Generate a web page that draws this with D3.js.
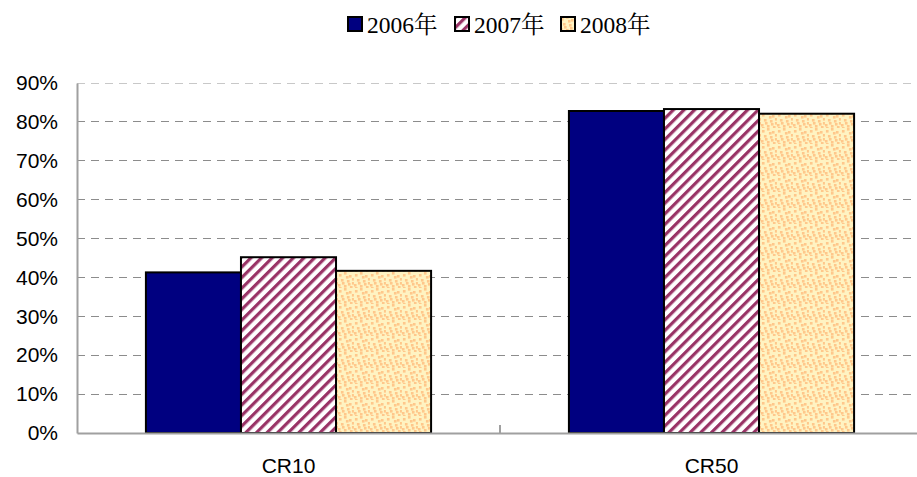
<!DOCTYPE html>
<html><head><meta charset="utf-8">
<script src="https://cdn.jsdelivr.net/npm/d3@7"></script>
<style>body{margin:0;background:#fff}</style>
</head><body>
<svg id="c" width="917" height="477"></svg>
<script>
const categories = ["CR10", "CR50"];
const seriesNames = ["2006年", "2007年", "2008年"];
const s2006 = [0.413, 0.828];
const s2007 = [0.452, 0.833];
const s2008 = [0.417, 0.821];
const yTicks = [0,0.1,0.2,0.3,0.4,0.5,0.6,0.7,0.8,0.9];
const seriesValues = [s2006, s2007, s2008];

const svg = d3.select("#c");
const defs = svg.append("defs");
// stripes
const p1 = defs.append("pattern").attr("id","stripe").attr("patternUnits","userSpaceOnUse")
  .attr("width",7.5).attr("height",7.5).attr("patternTransform","rotate(45)");
p1.append("rect").attr("width",7.5).attr("height",7.5).attr("fill","#fff");
p1.append("rect").attr("x",0).attr("width",3.2).attr("height",7.5).attr("fill","#993366");
// dots
const p2 = defs.append("pattern").attr("id","dots").attr("patternUnits","userSpaceOnUse")
  .attr("width",16).attr("height",16);
p2.append("rect").attr("width",16).attr("height",16).attr("fill","#FFF3C2");
[[1,2],[6,0],[11,3],[3,7],[9,8],[14,10],[0,12],[6,13],[12,14],[4,10],[8,4],[14,6],[1,15],[10,11]].forEach(d=>{
  p2.append("rect").attr("x",d[0]).attr("y",d[1]).attr("width",2.6).attr("height",2.6).attr("fill","#FFC78A");
});
const fills = ["#000080","url(#stripe)","url(#dots)"];

const L=77, R=923, T=83, B=433;
const x = d3.scaleBand().domain(categories).range([L,R]);
const y = d3.scaleLinear().domain([0,0.9]).range([B,T]);
const barW = x.bandwidth()/ (3+1.45);
const xs = d3.scaleBand().domain(seriesNames).range([0, barW*3]);

// grid
svg.append("g").selectAll("line").data(yTicks.filter(d=>d>0)).join("line")
  .attr("x1",L).attr("x2",917).attr("y1",d=>y(d)).attr("y2",d=>y(d))
  .attr("stroke",(d)=>d===0.9?"#c8c8c8":"#8c8c8c").attr("stroke-width",1).attr("stroke-dasharray","8,6")
  .attr("shape-rendering","crispEdges");

// y axis
const ya = svg.append("g").attr("transform",`translate(${L},0)`)
  .call(d3.axisLeft(y).tickValues(yTicks).tickFormat(d3.format(".0%")).tickSize(0).tickPadding(19));
ya.select(".domain").attr("stroke","#a0a0a0").attr("stroke-width",2);
ya.selectAll("text").attr("font-family","Liberation Sans, Arial").attr("font-size",21).attr("fill","#000");

// bars
categories.forEach((c,ci)=>{
  const g = svg.append("g").attr("transform",`translate(${x(c)+(x.bandwidth()-barW*3)/2},0)`);
  g.selectAll("rect").data(seriesNames).join("rect")
    .attr("x",d=>xs(d)).attr("width",xs.bandwidth())
    .attr("y",(d,i)=>y(seriesValues[i][ci])).attr("height",(d,i)=>B-y(seriesValues[i][ci]))
    .attr("fill",(d,i)=>fills[i]).attr("stroke","#000").attr("stroke-width",2);
});

// x axis
const xa = svg.append("g").attr("transform",`translate(0,${B})`)
  .call(d3.axisBottom(x).tickSize(0).tickPadding(25));
xa.select(".domain").attr("stroke","#a0a0a0").attr("stroke-width",2);
xa.selectAll("text").attr("font-family","Liberation Sans, Arial").attr("font-size",21).attr("fill","#000");
svg.append("line").attr("x1",x("CR50")).attr("x2",x("CR50")).attr("y1",B-8).attr("y2",B)
  .attr("stroke","#a0a0a0").attr("stroke-width",2);

// legend
const legX = [347, 454, 560];
const leg = svg.append("g");
seriesNames.forEach((s,i)=>{
  const g = leg.append("g").attr("transform",`translate(${legX[i]},16)`);
  g.append("rect").attr("x",1).attr("y",1).attr("width",14).attr("height",14)
    .attr("fill",fills[i]).attr("stroke","#000").attr("stroke-width",2);
  g.append("text").attr("x",20).attr("y",17).text(s)
    .attr("font-family","Liberation Serif, 'Noto Serif CJK SC', 'Noto Sans CJK SC', serif").attr("font-size",23.5).attr("fill","#000");
});
</script>
</body></html>
